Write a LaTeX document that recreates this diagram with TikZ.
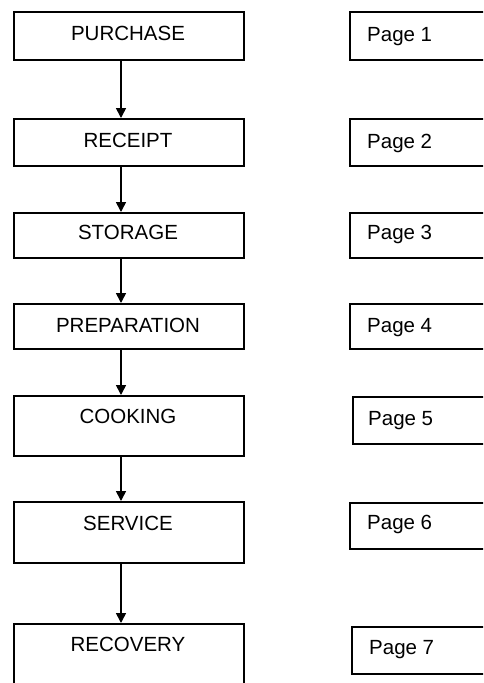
\documentclass[tikz,border=0pt]{standalone}
\usepackage{fontspec}
\setmainfont{Liberation Sans}
\usetikzlibrary{arrows.meta}
\begin{document}
\begin{tikzpicture}[x=1pt,y=-1pt,
  box/.style={draw, line width=1.8pt, inner sep=0pt, anchor=north west},
  stage/.style={box, minimum width=230pt},
  pagebox/.style={box, minimum width=160pt},
  lbl/.style={font=\fontsize{20.5}{23}\selectfont, inner sep=0pt, anchor=base},
  plbl/.style={font=\fontsize{20.5}{23}\selectfont, inner sep=0pt, anchor=base west},
  flow/.style={line width=1.6pt, -{Triangle[length=10pt,width=10pt]}}]
\useasboundingbox (0,0) rectangle (483,683);
\fill[white] (0,0) rectangle (483,683);
\clip (0,0) rectangle (483,683);
\coordinate (axis) at (121,0);

% process stages
\node[stage, minimum height=48pt] (purchase)    at (13,11)  {};
\node[stage, minimum height=47pt] (receipt)     at (13,118) {};
\node[stage, minimum height=45pt] (storage)     at (13,212) {};
\node[stage, minimum height=45pt] (preparation) at (13,303) {};
\node[stage, minimum height=60pt] (cooking)     at (13,395) {};
\node[stage, minimum height=61pt] (service)     at (13,501) {};
\node[stage, minimum height=80pt] (recovery)    at (13,623) {};

\node[lbl] (tpurchase)    at (128,40.5) {PURCHASE};
\node[lbl] (treceipt)     at (128,147)  {RECEIPT};
\node[lbl] (tstorage)     at (128,239)  {STORAGE};
\node[lbl] (tpreparation) at (128,332)  {PREPARATION};
\node[lbl] (tcooking)     at (128,423)  {COOKING};
\node[lbl] (tservice)     at (128,530)  {SERVICE};
\node[lbl] (trecovery)    at (128,651)  {RECOVERY};

% page references
\node[pagebox, minimum height=48pt] (p1) at (349,11)  {};
\node[pagebox, minimum height=47pt] (p2) at (349,118) {};
\node[pagebox, minimum height=45pt] (p3) at (349,212) {};
\node[pagebox, minimum height=45pt] (p4) at (349,303) {};
\node[pagebox, minimum height=47pt] (p5) at (352,396) {};
\node[pagebox, minimum height=46pt] (p6) at (349,502) {};
\node[pagebox, minimum height=47pt] (p7) at (351,626) {};

\node[plbl] (tp1) at (367,41)  {Page 1};
\node[plbl] (tp2) at (367,148) {Page 2};
\node[plbl] (tp3) at (367,239) {Page 3};
\node[plbl] (tp4) at (367,332) {Page 4};
\node[plbl] (tp5) at (368,425) {Page 5};
\node[plbl] (tp6) at (367,529) {Page 6};
\node[plbl] (tp7) at (369,654) {Page 7};

% flow arrows
\draw[flow] (purchase.south -| axis)    -- (receipt.north -| axis);
\draw[flow] (receipt.south -| axis)     -- (storage.north -| axis);
\draw[flow] (storage.south -| axis)     -- (preparation.north -| axis);
\draw[flow] (preparation.south -| axis) -- (cooking.north -| axis);
\draw[flow] (cooking.south -| axis)     -- (service.north -| axis);
\draw[flow] (service.south -| axis)     -- (recovery.north -| axis);
\end{tikzpicture}
\end{document}
